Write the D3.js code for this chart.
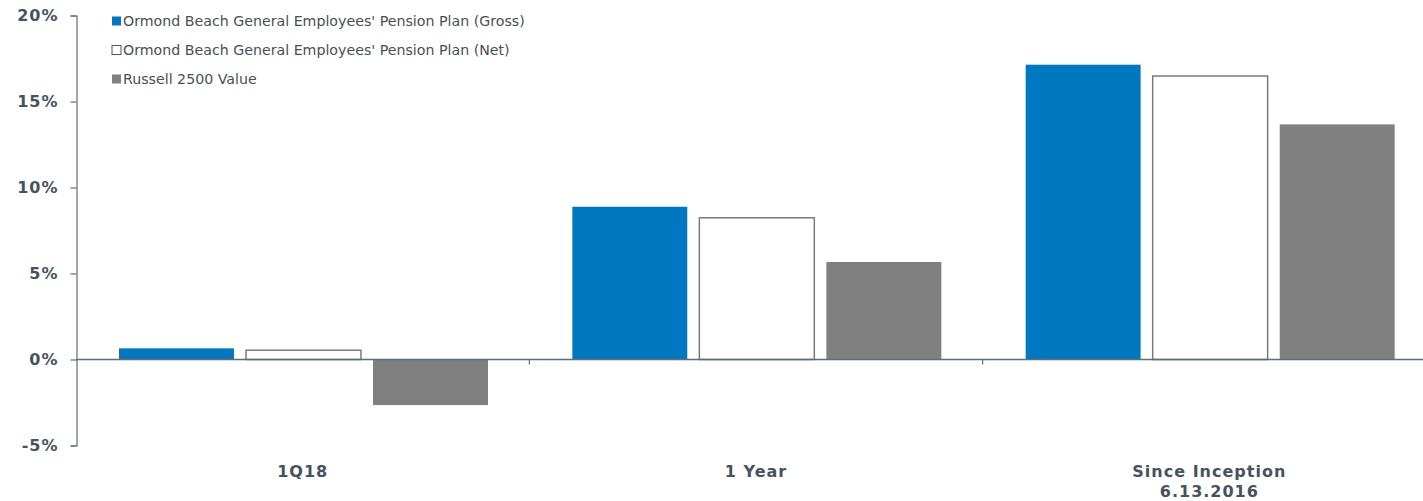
<!DOCTYPE html>
<html>
<head>
<meta charset="utf-8">
<script src="https://cdn.jsdelivr.net/npm/d3@7"></script>
<style>
  body { margin: 0; background: #fff; }
  text { font-family: "DejaVu Sans", Verdana, sans-serif; }
</style>
</head>
<body>
<script>
// chart size
var w = 1423;
var h = 501;

var colorBlue = "#0078c1";
var colorGray = "#808080";
var colorAxis = "#5f6e7a";
var colorText = "#44535f";

// data
var categories = [["1Q18"], ["1 Year"], ["Since Inception", "6.13.2016"]];
var series = [
	"Ormond Beach General Employees' Pension Plan (Gross)",
	"Ormond Beach General Employees' Pension Plan (Net)",
	"Russell 2500 Value"
];
var gross = [0.65, 8.88, 17.14];
var net = [0.54, 8.24, 16.48];
var russell = [-2.65, 5.67, 13.67];
var yTicks = [-5, 0, 5, 10, 15, 20];

var values = [gross, net, russell];
var fills = [colorBlue, "#ffffff", colorGray];
var strokes = ["none", "#7a7a7a", "none"];

var rows = [];
categories.forEach(function(c, i) {
	series.forEach(function(s, j) {
		rows.push({cat: i, ser: j, value: values[j][i]});
	});
});

var svg = d3.select("body")
	.append("svg")
	.attr("width", w)
	.attr("height", h);

var x0 = d3.scaleBand()
	.domain(d3.range(categories.length))
	.range([76, 1436]);

var x1 = d3.scaleBand()
	.domain(d3.range(series.length))
	.range([43, 412])
	.paddingInner(0.095);

var y = d3.scaleLinear()
	.domain([-5, 20])
	.range([445.5, 15.5]);

// bars
svg.selectAll("rect.bar")
	.data(rows)
	.enter()
	.append("rect")
	.attr("class", "bar")
	.attr("x", function(d) { return x0(d.cat) + x1(d.ser); })
	.attr("y", function(d) { return y(Math.max(0, d.value)); })
	.attr("width", x1.bandwidth())
	.attr("height", function(d) { return Math.abs(y(d.value) - y(0)); })
	.attr("fill", function(d) { return fills[d.ser]; })
	.attr("stroke", function(d) { return strokes[d.ser]; })
	.attr("stroke-width", 1.5);

// y axis
var yAxis = svg.append("g")
	.attr("transform", "translate(76.5,0)")
	.call(d3.axisLeft(y).tickValues(yTicks).tickSize(6).tickPadding(12)
		.tickFormat(function(d) { return d + "%"; }));
yAxis.select(".domain").attr("stroke", colorAxis).attr("stroke-width", 1.2);
yAxis.selectAll(".tick line").attr("stroke", colorAxis).attr("stroke-width", 1.2);
yAxis.selectAll(".tick text")
	.attr("fill", colorText)
	.attr("font-size", "16px")
	.attr("font-weight", "bold")
	.attr("letter-spacing", "1px")
	.style("font-family", "DejaVu Sans");

// x axis line at zero
svg.append("line")
	.attr("x1", 76)
	.attr("x2", w)
	.attr("y1", y(0))
	.attr("y2", y(0))
	.attr("stroke", colorAxis)
	.attr("stroke-width", 1.5);

// category separators
svg.selectAll("line.sep")
	.data(d3.range(1, categories.length))
	.enter()
	.append("line")
	.attr("class", "sep")
	.attr("x1", function(d) { return x0(d); })
	.attr("x2", function(d) { return x0(d); })
	.attr("y1", y(0))
	.attr("y2", y(0) + 5)
	.attr("stroke", colorAxis)
	.attr("stroke-width", 1.2);

// category labels
var catLabels = svg.selectAll("text.cat")
	.data(categories)
	.enter()
	.append("text")
	.attr("class", "cat")
	.attr("text-anchor", "middle")
	.attr("x", function(d, i) { return x0(i) + x0.bandwidth() / 2; })
	.attr("y", 477)
	.attr("font-size", "16px")
	.attr("font-weight", "bold")
	.attr("letter-spacing", "1px")
	.attr("fill", colorText);

catLabels.selectAll("tspan")
	.data(function(d) { return d; })
	.enter()
	.append("tspan")
	.attr("x", function() { return this.parentNode.getAttribute("x"); })
	.attr("dy", function(d, i) { return i == 0 ? 0 : 20; })
	.text(function(d) { return d; });

// legend
var legend = svg.selectAll("g.legend")
	.data(series)
	.enter()
	.append("g")
	.attr("class", "legend")
	.attr("transform", function(d, i) { return "translate(112," + (21 + i * 29) + ")"; });

legend.append("rect")
	.attr("x", 0)
	.attr("y", -4.5)
	.attr("width", 9)
	.attr("height", 9)
	.attr("fill", function(d, i) { return fills[i]; })
	.attr("stroke", function(d, i) { return i == 1 ? "#555" : "none"; })
	.attr("stroke-width", 1);

legend.append("text")
	.attr("x", 11)
	.attr("y", 5)
	.attr("font-size", "14.2px")
	.attr("fill", "#4a4f55")
	.text(function(d) { return d; });
</script>
</body>
</html>
